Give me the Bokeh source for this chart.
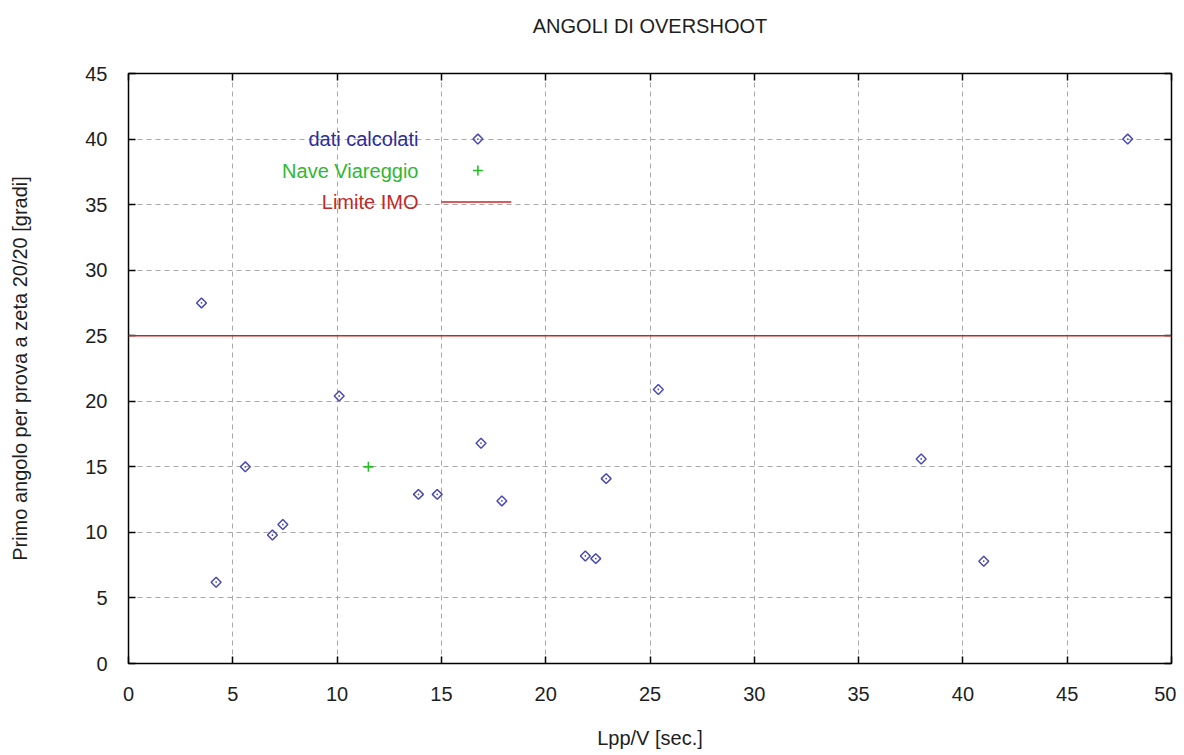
import math
from bokeh.plotting import figure
from bokeh.models import (Range1d, LinearAxis, SingleIntervalTicker, Span,
                          CustomJSTickFormatter)
from bokeh.core.properties import value
from bokeh.embed import file_html
from bokeh.resources import INLINE

# ---- data -------------------------------------------------------------
calc_x = [3.5, 4.2, 5.6, 6.9, 7.4, 10.1, 13.9, 14.8, 16.9, 17.9, 21.9, 22.4, 22.9, 25.4, 38.0, 41.0, 47.9]
calc_y = [27.5, 6.2, 15.0, 9.8, 10.6, 20.4, 12.9, 12.9, 16.8, 12.4, 8.2, 8.0, 14.1, 20.9, 15.6, 7.8, 40.0]
viareggio_x = [11.5]
viareggio_y = [15.0]
imo_limit = 25.0
series_names = ["dati calcolati", "Nave Viareggio", "Limite IMO"]

TITLE = "ANGOLI DI OVERSHOOT"
XLABEL = "Lpp/V [sec.]"
YLABEL = "Primo angolo per prova a zeta 20/20 [gradi]"

# ---- style ------------------------------------------------------------
FONT = "Liberation Sans"
FS = "20px"
TXT = "#1e1e1e"
BLUE = "#4a4ab0"
BLUE_TXT = "#2c2c9c"
GREEN = "#22c022"
GREEN_TXT = "#30b830"
RED = "#cc2424"
RED_TXT = "#c02828"
MSIZE = 7

p = figure(width=1176, height=755, title=None,
           x_range=Range1d(0, 50), y_range=Range1d(0, 45),
           output_backend="svg", toolbar_location=None,
           min_border_left=128, min_border_right=5,
           min_border_top=73, min_border_bottom=92,
           background_fill_color="white", border_fill_color="white")

p.outline_line_color = "black"
p.outline_line_width = 1.5

ticker = SingleIntervalTicker(interval=5)

for ax in (p.xaxis[0], p.yaxis[0]):
    ax.ticker = ticker
    ax.axis_line_color = None
    ax.major_tick_in = 7
    ax.major_tick_out = 0
    ax.major_tick_line_color = "black"
    ax.major_tick_line_width = 1.5
    ax.minor_tick_line_color = None
    ax.major_label_text_font = FONT
    ax.major_label_text_font_size = FS
    ax.major_label_text_color = TXT
    ax.axis_label_text_font = FONT
    ax.axis_label_text_font_size = FS
    ax.axis_label_text_font_style = "normal"
    ax.axis_label_text_color = TXT

p.xaxis.axis_label = XLABEL
p.xaxis.major_label_standoff = 19
p.xaxis.axis_label_standoff = 23
p.yaxis.axis_label = YLABEL
p.yaxis.major_label_standoff = 17
p.yaxis.axis_label_standoff = 51

# mirrored tick marks on the right and top; the top one carries the title
blank = CustomJSTickFormatter(code="return ''")
right_ax = LinearAxis(ticker=ticker, formatter=blank, axis_line_color=None,
                      major_tick_in=7, major_tick_out=0,
                      major_tick_line_color="black", major_tick_line_width=1.5,
                      minor_tick_line_color=None, major_label_standoff=0,
                      axis_label_standoff=0)
p.add_layout(right_ax, "right")

top_ax = LinearAxis(ticker=ticker, formatter=blank, axis_line_color=None,
                    major_tick_in=7, major_tick_out=0,
                    major_tick_line_color="black", major_tick_line_width=1.5,
                    minor_tick_line_color=None, major_label_standoff=0,
                    axis_label=TITLE, axis_label_standoff=33,
                    axis_label_text_font=FONT, axis_label_text_font_size=FS,
                    axis_label_text_font_style="normal", axis_label_text_color=TXT)
p.add_layout(top_ax, "above")

for g in (p.xgrid[0], p.ygrid[0]):
    g.ticker = ticker
    g.grid_line_color = "#a8a8a8"
    g.grid_line_dash = "5 4"
    g.grid_line_width = 1

# ---- data marks ---------------------------------------------------------
p.add_layout(Span(location=imo_limit, dimension="width", line_color=RED, line_width=1.5))
p.scatter(calc_x, calc_y, marker="square_dot", size=MSIZE, angle=math.pi / 4,
          fill_color=None, line_color=BLUE, line_width=1.5)
p.scatter(viareggio_x, viareggio_y, marker="cross", size=10,
          line_color=GREEN, line_width=1.6)

# ---- custom legend (label left, sample right) ---------------------------
LEG_TEXT_X = 13.9
LEG_SAMPLE_X = 16.75
LEG_LINE_X0, LEG_LINE_X1 = 15.0, 18.35
LEG_ROWS = [40.0, 37.6, 35.2]

p.text([LEG_TEXT_X] * 3, LEG_ROWS, text=series_names,
       text_align="right", text_baseline="middle",
       text_font=value(FONT), text_font_size=FS,
       text_color=[BLUE_TXT, GREEN_TXT, RED_TXT])
p.scatter([LEG_SAMPLE_X], [LEG_ROWS[0]], marker="square_dot", size=MSIZE, angle=math.pi / 4,
          fill_color=None, line_color=BLUE, line_width=1.5)
p.scatter([LEG_SAMPLE_X], [LEG_ROWS[1]], marker="cross", size=10,
          line_color=GREEN, line_width=1.6)
p.line([LEG_LINE_X0, LEG_LINE_X1], [LEG_ROWS[2]] * 2, line_color=RED, line_width=1.5)

open("out.html", "w").write(file_html(p, INLINE))
